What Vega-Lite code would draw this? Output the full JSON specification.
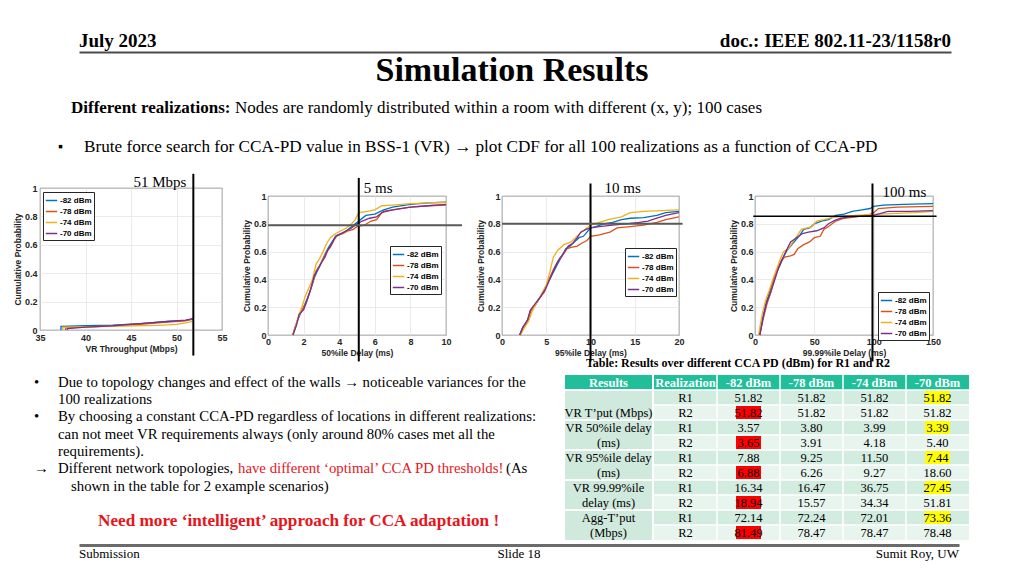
{
"$schema": "https://vega.github.io/schema/vega-lite/v6.json",
"background": "white",
"padding": {"left": 13, "top": 30, "right": 0, "bottom": 0},
"config": {
  "view": {"stroke": null},
  "font": "Liberation Serif",
  "text": {"font": "Liberation Serif", "color": "black"},
  "axis": {"labelFont": "Liberation Sans", "labelFontSize": 9, "labelFontWeight": "bold", "labelColor": "#262626", "labelPadding": 2, "labelFlush": false, "labelOverlap": false, "tickCount": 12, "titleFont": "Liberation Sans", "titleFontSize": 8.5, "titleFontWeight": "bold", "titleColor": "#262626", "titlePadding": 2, "domain": false, "ticks": false, "grid": true, "gridColor": "#e3e3e3", "gridWidth": 0.7},
  "legend": {"symbolType": "stroke", "symbolSize": 130, "symbolStrokeWidth": 1.5, "labelFont": "Liberation Sans", "labelFontSize": 8, "labelFontWeight": "bold", "labelColor": "black", "labelOffset": 2, "rowPadding": 0, "padding": 2, "strokeColor": "#262626", "fillColor": "white"}
},
"datasets": {
  "header": [{"slot": "left", "text": "July 2023"}, {"slot": "right", "text": "doc.: IEEE 802.11-23/1158r0"}],
  "footer": [{"slot": "left", "text": "Submission"}, {"slot": "center", "text": "Slide 18"}, {"slot": "right", "text": "Sumit Roy, UW"}],
  "intro": [{"part": "lead", "text": "Different realizations:"}, {"part": "body", "text": "Nodes are randomly distributed within a room with different (x, y); 100 cases"}],
  "bullets": [
    {"line": 0, "seg": "body", "marker": "•", "text": "Due to  topology changes and effect of the walls → noticeable variances for the"},
    {"line": 1, "seg": "body", "text": "100 realizations"},
    {"line": 2, "seg": "body", "marker": "•", "text": "By choosing a constant CCA-PD regardless of locations in different realizations:"},
    {"line": 3, "seg": "body", "text": "can not meet VR requirements always (only around 80% cases met all the"},
    {"line": 4, "seg": "body", "text": "requirements)."},
    {"line": 5, "seg": "body", "marker": "→", "text": "Different network topologies,"},
    {"line": 5, "seg": "red", "text": "have different ‘optimal’ CCA PD thresholds!"},
    {"line": 5, "seg": "after", "text": "(As"},
    {"line": 6, "seg": "hang", "text": "shown in the table for 2 example scenarios)"},
    {"line": 8, "seg": "call", "text": "Need more ‘intelligent’  approach for  CCA adaptation !"}
  ],
  "thr": [
    {"c": "tput", "v": 51.85, "label": "51 Mbps"},
    {"c": "d50", "v": 5.1, "h": 0.79, "label": "5 ms"},
    {"c": "d95", "v": 10, "h": 0.8, "label": "10 ms"},
    {"c": "d9999", "v": 99, "h": 0.855, "label": "100 ms"}
  ],
  "tblhead": [{"row": 0, "col": "Results"}, {"row": 0, "col": "Realization"}, {"row": 0, "col": "-82 dBm"}, {"row": 0, "col": "-78 dBm"}, {"row": 0, "col": "-74 dBm"}, {"row": 0, "col": "-70 dBm"}],
  "tbl": [
    {"row": 1, "real": "R1", "label": "", "optimal": "-70 dBm", "-82 dBm": 51.82, "-78 dBm": 51.82, "-74 dBm": 51.82, "-70 dBm": 51.82},
    {"row": 2, "real": "R2", "label": "VR T’put (Mbps)", "optimal": "-82 dBm", "-82 dBm": 51.82, "-78 dBm": 51.82, "-74 dBm": 51.82, "-70 dBm": 51.82},
    {"row": 3, "real": "R1", "label": "VR 50%ile delay", "optimal": "-70 dBm", "-82 dBm": 3.57, "-78 dBm": 3.80, "-74 dBm": 3.99, "-70 dBm": 3.39},
    {"row": 4, "real": "R2", "label": "(ms)", "optimal": "-82 dBm", "-82 dBm": 3.65, "-78 dBm": 3.91, "-74 dBm": 4.18, "-70 dBm": 5.40},
    {"row": 5, "real": "R1", "label": "VR 95%ile delay", "optimal": "-70 dBm", "-82 dBm": 7.88, "-78 dBm": 9.25, "-74 dBm": 11.50, "-70 dBm": 7.44},
    {"row": 6, "real": "R2", "label": "(ms)", "optimal": "-82 dBm", "-82 dBm": 6.88, "-78 dBm": 6.26, "-74 dBm": 9.27, "-70 dBm": 18.60},
    {"row": 7, "real": "R1", "label": "VR 99.99%ile", "optimal": "-70 dBm", "-82 dBm": 16.34, "-78 dBm": 16.47, "-74 dBm": 36.75, "-70 dBm": 27.45},
    {"row": 8, "real": "R2", "label": "delay (ms)", "optimal": "-82 dBm", "-82 dBm": 18.94, "-78 dBm": 15.57, "-74 dBm": 34.34, "-70 dBm": 51.81},
    {"row": 9, "real": "R1", "label": "Agg-T’put", "optimal": "-70 dBm", "-82 dBm": 72.14, "-78 dBm": 72.24, "-74 dBm": 72.01, "-70 dBm": 73.36},
    {"row": 10, "real": "R2", "label": "(Mbps)", "optimal": "-82 dBm", "-82 dBm": 81.49, "-78 dBm": 78.47, "-74 dBm": 78.47, "-70 dBm": 78.48}
  ],
  "cdf": [
    {"c":"tput","s":"-82 dBm","x":37.3,"p":0},{"c":"tput","s":"-82 dBm","x":37.31,"p":0.025},{"c":"tput","s":"-82 dBm","x":40,"p":0.03},{"c":"tput","s":"-82 dBm","x":43,"p":0.035},{"c":"tput","s":"-82 dBm","x":46,"p":0.045},{"c":"tput","s":"-82 dBm","x":49,"p":0.06},{"c":"tput","s":"-82 dBm","x":51,"p":0.068},{"c":"tput","s":"-82 dBm","x":51.8,"p":0.075},
    {"c":"tput","s":"-78 dBm","x":37.8,"p":0},{"c":"tput","s":"-78 dBm","x":37.81,"p":0.015},{"c":"tput","s":"-78 dBm","x":40,"p":0.02},{"c":"tput","s":"-78 dBm","x":43,"p":0.03},{"c":"tput","s":"-78 dBm","x":46,"p":0.04},{"c":"tput","s":"-78 dBm","x":49,"p":0.055},{"c":"tput","s":"-78 dBm","x":51,"p":0.065},{"c":"tput","s":"-78 dBm","x":51.8,"p":0.08},
    {"c":"tput","s":"-74 dBm","x":37.5,"p":0},{"c":"tput","s":"-74 dBm","x":37.51,"p":0.02},{"c":"tput","s":"-74 dBm","x":40,"p":0.022},{"c":"tput","s":"-74 dBm","x":44,"p":0.028},{"c":"tput","s":"-74 dBm","x":48,"p":0.032},{"c":"tput","s":"-74 dBm","x":50,"p":0.04},{"c":"tput","s":"-74 dBm","x":51,"p":0.05},{"c":"tput","s":"-74 dBm","x":51.8,"p":0.06},
    {"c":"tput","s":"-70 dBm","x":38,"p":0},{"c":"tput","s":"-70 dBm","x":38.01,"p":0.01},{"c":"tput","s":"-70 dBm","x":40,"p":0.02},{"c":"tput","s":"-70 dBm","x":43,"p":0.03},{"c":"tput","s":"-70 dBm","x":46,"p":0.045},{"c":"tput","s":"-70 dBm","x":49,"p":0.06},{"c":"tput","s":"-70 dBm","x":51,"p":0.07},{"c":"tput","s":"-70 dBm","x":51.8,"p":0.08},

    {"c":"d50","s":"-82 dBm","x":1.4,"p":0},{"c":"d50","s":"-82 dBm","x":1.5,"p":0.04},{"c":"d50","s":"-82 dBm","x":1.65,"p":0.1},{"c":"d50","s":"-82 dBm","x":1.8,"p":0.15},{"c":"d50","s":"-82 dBm","x":2,"p":0.2},{"c":"d50","s":"-82 dBm","x":2.2,"p":0.26},{"c":"d50","s":"-82 dBm","x":2.4,"p":0.33},{"c":"d50","s":"-82 dBm","x":2.6,"p":0.41},{"c":"d50","s":"-82 dBm","x":2.8,"p":0.47},{"c":"d50","s":"-82 dBm","x":3,"p":0.52},{"c":"d50","s":"-82 dBm","x":3.2,"p":0.58},{"c":"d50","s":"-82 dBm","x":3.4,"p":0.63},{"c":"d50","s":"-82 dBm","x":3.6,"p":0.67},{"c":"d50","s":"-82 dBm","x":3.8,"p":0.71},{"c":"d50","s":"-82 dBm","x":4,"p":0.72},{"c":"d50","s":"-82 dBm","x":4.3,"p":0.74},{"c":"d50","s":"-82 dBm","x":4.6,"p":0.77},{"c":"d50","s":"-82 dBm","x":4.9,"p":0.8},{"c":"d50","s":"-82 dBm","x":5.2,"p":0.83},{"c":"d50","s":"-82 dBm","x":5.5,"p":0.86},{"c":"d50","s":"-82 dBm","x":6,"p":0.87},{"c":"d50","s":"-82 dBm","x":6.5,"p":0.9},{"c":"d50","s":"-82 dBm","x":7,"p":0.92},{"c":"d50","s":"-82 dBm","x":8,"p":0.94},{"c":"d50","s":"-82 dBm","x":9,"p":0.95},{"c":"d50","s":"-82 dBm","x":10,"p":0.955},
    {"c":"d50","s":"-78 dBm","x":1.4,"p":0},{"c":"d50","s":"-78 dBm","x":1.5,"p":0.05},{"c":"d50","s":"-78 dBm","x":1.7,"p":0.12},{"c":"d50","s":"-78 dBm","x":1.9,"p":0.18},{"c":"d50","s":"-78 dBm","x":2.1,"p":0.22},{"c":"d50","s":"-78 dBm","x":2.3,"p":0.29},{"c":"d50","s":"-78 dBm","x":2.5,"p":0.37},{"c":"d50","s":"-78 dBm","x":2.7,"p":0.46},{"c":"d50","s":"-78 dBm","x":2.9,"p":0.5},{"c":"d50","s":"-78 dBm","x":3.1,"p":0.55},{"c":"d50","s":"-78 dBm","x":3.3,"p":0.6},{"c":"d50","s":"-78 dBm","x":3.5,"p":0.63},{"c":"d50","s":"-78 dBm","x":3.7,"p":0.68},{"c":"d50","s":"-78 dBm","x":3.9,"p":0.72},{"c":"d50","s":"-78 dBm","x":4.2,"p":0.73},{"c":"d50","s":"-78 dBm","x":4.5,"p":0.75},{"c":"d50","s":"-78 dBm","x":4.8,"p":0.76},{"c":"d50","s":"-78 dBm","x":5,"p":0.78},{"c":"d50","s":"-78 dBm","x":5.4,"p":0.79},{"c":"d50","s":"-78 dBm","x":5.8,"p":0.82},{"c":"d50","s":"-78 dBm","x":6.1,"p":0.83},{"c":"d50","s":"-78 dBm","x":6.4,"p":0.88},{"c":"d50","s":"-78 dBm","x":7,"p":0.9},{"c":"d50","s":"-78 dBm","x":8,"p":0.92},{"c":"d50","s":"-78 dBm","x":9,"p":0.93},{"c":"d50","s":"-78 dBm","x":10,"p":0.935},
    {"c":"d50","s":"-74 dBm","x":1.4,"p":0},{"c":"d50","s":"-74 dBm","x":1.55,"p":0.06},{"c":"d50","s":"-74 dBm","x":1.7,"p":0.13},{"c":"d50","s":"-74 dBm","x":1.9,"p":0.2},{"c":"d50","s":"-74 dBm","x":2.1,"p":0.28},{"c":"d50","s":"-74 dBm","x":2.3,"p":0.34},{"c":"d50","s":"-74 dBm","x":2.5,"p":0.4},{"c":"d50","s":"-74 dBm","x":2.7,"p":0.51},{"c":"d50","s":"-74 dBm","x":2.9,"p":0.55},{"c":"d50","s":"-74 dBm","x":3.1,"p":0.6},{"c":"d50","s":"-74 dBm","x":3.3,"p":0.66},{"c":"d50","s":"-74 dBm","x":3.5,"p":0.7},{"c":"d50","s":"-74 dBm","x":3.8,"p":0.73},{"c":"d50","s":"-74 dBm","x":4.1,"p":0.75},{"c":"d50","s":"-74 dBm","x":4.4,"p":0.77},{"c":"d50","s":"-74 dBm","x":4.7,"p":0.8},{"c":"d50","s":"-74 dBm","x":4.9,"p":0.83},{"c":"d50","s":"-74 dBm","x":5.1,"p":0.88},{"c":"d50","s":"-74 dBm","x":5.6,"p":0.89},{"c":"d50","s":"-74 dBm","x":6,"p":0.9},{"c":"d50","s":"-74 dBm","x":6.4,"p":0.93},{"c":"d50","s":"-74 dBm","x":7,"p":0.935},{"c":"d50","s":"-74 dBm","x":8,"p":0.945},{"c":"d50","s":"-74 dBm","x":9,"p":0.95},{"c":"d50","s":"-74 dBm","x":10,"p":0.955},
    {"c":"d50","s":"-70 dBm","x":1.4,"p":0},{"c":"d50","s":"-70 dBm","x":1.6,"p":0.07},{"c":"d50","s":"-70 dBm","x":1.75,"p":0.15},{"c":"d50","s":"-70 dBm","x":2,"p":0.18},{"c":"d50","s":"-70 dBm","x":2.2,"p":0.25},{"c":"d50","s":"-70 dBm","x":2.4,"p":0.33},{"c":"d50","s":"-70 dBm","x":2.6,"p":0.43},{"c":"d50","s":"-70 dBm","x":2.8,"p":0.47},{"c":"d50","s":"-70 dBm","x":3,"p":0.52},{"c":"d50","s":"-70 dBm","x":3.2,"p":0.56},{"c":"d50","s":"-70 dBm","x":3.4,"p":0.62},{"c":"d50","s":"-70 dBm","x":3.6,"p":0.66},{"c":"d50","s":"-70 dBm","x":3.8,"p":0.71},{"c":"d50","s":"-70 dBm","x":4.1,"p":0.73},{"c":"d50","s":"-70 dBm","x":4.4,"p":0.75},{"c":"d50","s":"-70 dBm","x":4.7,"p":0.77},{"c":"d50","s":"-70 dBm","x":5,"p":0.8},{"c":"d50","s":"-70 dBm","x":5.3,"p":0.82},{"c":"d50","s":"-70 dBm","x":5.7,"p":0.84},{"c":"d50","s":"-70 dBm","x":6.1,"p":0.85},{"c":"d50","s":"-70 dBm","x":6.5,"p":0.89},{"c":"d50","s":"-70 dBm","x":7,"p":0.9},{"c":"d50","s":"-70 dBm","x":8,"p":0.92},{"c":"d50","s":"-70 dBm","x":9,"p":0.93},{"c":"d50","s":"-70 dBm","x":10,"p":0.94},

    {"c":"d95","s":"-82 dBm","x":2,"p":0},{"c":"d95","s":"-82 dBm","x":2.3,"p":0.05},{"c":"d95","s":"-82 dBm","x":2.8,"p":0.09},{"c":"d95","s":"-82 dBm","x":3.2,"p":0.17},{"c":"d95","s":"-82 dBm","x":3.7,"p":0.21},{"c":"d95","s":"-82 dBm","x":4.2,"p":0.26},{"c":"d95","s":"-82 dBm","x":4.7,"p":0.31},{"c":"d95","s":"-82 dBm","x":5.2,"p":0.38},{"c":"d95","s":"-82 dBm","x":5.7,"p":0.44},{"c":"d95","s":"-82 dBm","x":6.2,"p":0.5},{"c":"d95","s":"-82 dBm","x":6.7,"p":0.56},{"c":"d95","s":"-82 dBm","x":7.2,"p":0.62},{"c":"d95","s":"-82 dBm","x":7.7,"p":0.64},{"c":"d95","s":"-82 dBm","x":8.2,"p":0.67},{"c":"d95","s":"-82 dBm","x":8.7,"p":0.7},{"c":"d95","s":"-82 dBm","x":9.2,"p":0.71},{"c":"d95","s":"-82 dBm","x":9.6,"p":0.74},{"c":"d95","s":"-82 dBm","x":10,"p":0.77},{"c":"d95","s":"-82 dBm","x":10.6,"p":0.78},{"c":"d95","s":"-82 dBm","x":11.5,"p":0.8},{"c":"d95","s":"-82 dBm","x":12.5,"p":0.81},{"c":"d95","s":"-82 dBm","x":13.5,"p":0.83},{"c":"d95","s":"-82 dBm","x":14.5,"p":0.84},{"c":"d95","s":"-82 dBm","x":16,"p":0.845},{"c":"d95","s":"-82 dBm","x":17.5,"p":0.86},{"c":"d95","s":"-82 dBm","x":18.5,"p":0.88},{"c":"d95","s":"-82 dBm","x":20,"p":0.89},
    {"c":"d95","s":"-78 dBm","x":2,"p":0},{"c":"d95","s":"-78 dBm","x":2.4,"p":0.06},{"c":"d95","s":"-78 dBm","x":2.9,"p":0.1},{"c":"d95","s":"-78 dBm","x":3.3,"p":0.18},{"c":"d95","s":"-78 dBm","x":3.8,"p":0.22},{"c":"d95","s":"-78 dBm","x":4.3,"p":0.27},{"c":"d95","s":"-78 dBm","x":4.8,"p":0.31},{"c":"d95","s":"-78 dBm","x":5.3,"p":0.4},{"c":"d95","s":"-78 dBm","x":5.8,"p":0.47},{"c":"d95","s":"-78 dBm","x":6.3,"p":0.53},{"c":"d95","s":"-78 dBm","x":6.8,"p":0.57},{"c":"d95","s":"-78 dBm","x":7.3,"p":0.62},{"c":"d95","s":"-78 dBm","x":7.8,"p":0.63},{"c":"d95","s":"-78 dBm","x":8.5,"p":0.64},{"c":"d95","s":"-78 dBm","x":9,"p":0.66},{"c":"d95","s":"-78 dBm","x":9.6,"p":0.68},{"c":"d95","s":"-78 dBm","x":10,"p":0.71},{"c":"d95","s":"-78 dBm","x":11,"p":0.72},{"c":"d95","s":"-78 dBm","x":12.2,"p":0.74},{"c":"d95","s":"-78 dBm","x":13,"p":0.77},{"c":"d95","s":"-78 dBm","x":14.5,"p":0.78},{"c":"d95","s":"-78 dBm","x":16,"p":0.79},{"c":"d95","s":"-78 dBm","x":17.5,"p":0.81},{"c":"d95","s":"-78 dBm","x":18.5,"p":0.83},{"c":"d95","s":"-78 dBm","x":20,"p":0.85},
    {"c":"d95","s":"-74 dBm","x":2.1,"p":0},{"c":"d95","s":"-74 dBm","x":2.5,"p":0.05},{"c":"d95","s":"-74 dBm","x":3,"p":0.1},{"c":"d95","s":"-74 dBm","x":3.4,"p":0.17},{"c":"d95","s":"-74 dBm","x":3.9,"p":0.23},{"c":"d95","s":"-74 dBm","x":4.5,"p":0.3},{"c":"d95","s":"-74 dBm","x":5,"p":0.36},{"c":"d95","s":"-74 dBm","x":5.4,"p":0.45},{"c":"d95","s":"-74 dBm","x":5.8,"p":0.56},{"c":"d95","s":"-74 dBm","x":6.3,"p":0.61},{"c":"d95","s":"-74 dBm","x":7,"p":0.65},{"c":"d95","s":"-74 dBm","x":7.8,"p":0.67},{"c":"d95","s":"-74 dBm","x":8.3,"p":0.7},{"c":"d95","s":"-74 dBm","x":8.8,"p":0.73},{"c":"d95","s":"-74 dBm","x":9.4,"p":0.76},{"c":"d95","s":"-74 dBm","x":10,"p":0.79},{"c":"d95","s":"-74 dBm","x":11,"p":0.81},{"c":"d95","s":"-74 dBm","x":12,"p":0.83},{"c":"d95","s":"-74 dBm","x":13.5,"p":0.85},{"c":"d95","s":"-74 dBm","x":14.5,"p":0.88},{"c":"d95","s":"-74 dBm","x":16,"p":0.89},{"c":"d95","s":"-74 dBm","x":18,"p":0.895},{"c":"d95","s":"-74 dBm","x":20,"p":0.9},
    {"c":"d95","s":"-70 dBm","x":2,"p":0},{"c":"d95","s":"-70 dBm","x":2.4,"p":0.06},{"c":"d95","s":"-70 dBm","x":2.9,"p":0.11},{"c":"d95","s":"-70 dBm","x":3.2,"p":0.18},{"c":"d95","s":"-70 dBm","x":3.8,"p":0.23},{"c":"d95","s":"-70 dBm","x":4.4,"p":0.28},{"c":"d95","s":"-70 dBm","x":4.9,"p":0.33},{"c":"d95","s":"-70 dBm","x":5.4,"p":0.4},{"c":"d95","s":"-70 dBm","x":6,"p":0.49},{"c":"d95","s":"-70 dBm","x":6.5,"p":0.55},{"c":"d95","s":"-70 dBm","x":7,"p":0.59},{"c":"d95","s":"-70 dBm","x":7.5,"p":0.64},{"c":"d95","s":"-70 dBm","x":8,"p":0.66},{"c":"d95","s":"-70 dBm","x":8.5,"p":0.7},{"c":"d95","s":"-70 dBm","x":8.9,"p":0.74},{"c":"d95","s":"-70 dBm","x":9.5,"p":0.76},{"c":"d95","s":"-70 dBm","x":10,"p":0.77},{"c":"d95","s":"-70 dBm","x":11,"p":0.78},{"c":"d95","s":"-70 dBm","x":12.5,"p":0.79},{"c":"d95","s":"-70 dBm","x":14,"p":0.8},{"c":"d95","s":"-70 dBm","x":15.5,"p":0.81},{"c":"d95","s":"-70 dBm","x":16.5,"p":0.82},{"c":"d95","s":"-70 dBm","x":17.5,"p":0.84},{"c":"d95","s":"-70 dBm","x":18.5,"p":0.86},{"c":"d95","s":"-70 dBm","x":20,"p":0.88},

    {"c":"d9999","s":"-82 dBm","x":4,"p":0},{"c":"d9999","s":"-82 dBm","x":6,"p":0.1},{"c":"d9999","s":"-82 dBm","x":9,"p":0.22},{"c":"d9999","s":"-82 dBm","x":12,"p":0.3},{"c":"d9999","s":"-82 dBm","x":15,"p":0.38},{"c":"d9999","s":"-82 dBm","x":18,"p":0.45},{"c":"d9999","s":"-82 dBm","x":21,"p":0.5},{"c":"d9999","s":"-82 dBm","x":24,"p":0.56},{"c":"d9999","s":"-82 dBm","x":27,"p":0.61},{"c":"d9999","s":"-82 dBm","x":30,"p":0.64},{"c":"d9999","s":"-82 dBm","x":34,"p":0.68},{"c":"d9999","s":"-82 dBm","x":38,"p":0.72},{"c":"d9999","s":"-82 dBm","x":41,"p":0.76},{"c":"d9999","s":"-82 dBm","x":46,"p":0.77},{"c":"d9999","s":"-82 dBm","x":50,"p":0.8},{"c":"d9999","s":"-82 dBm","x":56,"p":0.82},{"c":"d9999","s":"-82 dBm","x":62,"p":0.83},{"c":"d9999","s":"-82 dBm","x":68,"p":0.86},{"c":"d9999","s":"-82 dBm","x":75,"p":0.87},{"c":"d9999","s":"-82 dBm","x":82,"p":0.89},{"c":"d9999","s":"-82 dBm","x":90,"p":0.9},{"c":"d9999","s":"-82 dBm","x":97,"p":0.91},{"c":"d9999","s":"-82 dBm","x":100,"p":0.925},{"c":"d9999","s":"-82 dBm","x":108,"p":0.935},{"c":"d9999","s":"-82 dBm","x":125,"p":0.94},{"c":"d9999","s":"-82 dBm","x":150,"p":0.945},
    {"c":"d9999","s":"-78 dBm","x":4,"p":0},{"c":"d9999","s":"-78 dBm","x":7,"p":0.12},{"c":"d9999","s":"-78 dBm","x":10,"p":0.22},{"c":"d9999","s":"-78 dBm","x":13,"p":0.3},{"c":"d9999","s":"-78 dBm","x":16,"p":0.4},{"c":"d9999","s":"-78 dBm","x":19,"p":0.48},{"c":"d9999","s":"-78 dBm","x":22,"p":0.53},{"c":"d9999","s":"-78 dBm","x":25,"p":0.56},{"c":"d9999","s":"-78 dBm","x":30,"p":0.57},{"c":"d9999","s":"-78 dBm","x":33,"p":0.58},{"c":"d9999","s":"-78 dBm","x":36,"p":0.62},{"c":"d9999","s":"-78 dBm","x":41,"p":0.65},{"c":"d9999","s":"-78 dBm","x":46,"p":0.67},{"c":"d9999","s":"-78 dBm","x":50,"p":0.7},{"c":"d9999","s":"-78 dBm","x":55,"p":0.71},{"c":"d9999","s":"-78 dBm","x":58,"p":0.76},{"c":"d9999","s":"-78 dBm","x":62,"p":0.78},{"c":"d9999","s":"-78 dBm","x":68,"p":0.82},{"c":"d9999","s":"-78 dBm","x":75,"p":0.84},{"c":"d9999","s":"-78 dBm","x":85,"p":0.85},{"c":"d9999","s":"-78 dBm","x":95,"p":0.86},{"c":"d9999","s":"-78 dBm","x":100,"p":0.88},{"c":"d9999","s":"-78 dBm","x":104,"p":0.91},{"c":"d9999","s":"-78 dBm","x":120,"p":0.92},{"c":"d9999","s":"-78 dBm","x":150,"p":0.925},
    {"c":"d9999","s":"-74 dBm","x":3,"p":0},{"c":"d9999","s":"-74 dBm","x":6,"p":0.15},{"c":"d9999","s":"-74 dBm","x":9,"p":0.25},{"c":"d9999","s":"-74 dBm","x":12,"p":0.32},{"c":"d9999","s":"-74 dBm","x":15,"p":0.4},{"c":"d9999","s":"-74 dBm","x":18,"p":0.47},{"c":"d9999","s":"-74 dBm","x":21,"p":0.54},{"c":"d9999","s":"-74 dBm","x":24,"p":0.6},{"c":"d9999","s":"-74 dBm","x":28,"p":0.62},{"c":"d9999","s":"-74 dBm","x":32,"p":0.67},{"c":"d9999","s":"-74 dBm","x":36,"p":0.72},{"c":"d9999","s":"-74 dBm","x":39,"p":0.76},{"c":"d9999","s":"-74 dBm","x":44,"p":0.77},{"c":"d9999","s":"-74 dBm","x":48,"p":0.78},{"c":"d9999","s":"-74 dBm","x":52,"p":0.82},{"c":"d9999","s":"-74 dBm","x":58,"p":0.83},{"c":"d9999","s":"-74 dBm","x":65,"p":0.845},{"c":"d9999","s":"-74 dBm","x":75,"p":0.855},{"c":"d9999","s":"-74 dBm","x":85,"p":0.86},{"c":"d9999","s":"-74 dBm","x":95,"p":0.865},{"c":"d9999","s":"-74 dBm","x":105,"p":0.87},{"c":"d9999","s":"-74 dBm","x":120,"p":0.875},{"c":"d9999","s":"-74 dBm","x":135,"p":0.88},{"c":"d9999","s":"-74 dBm","x":150,"p":0.89},
    {"c":"d9999","s":"-70 dBm","x":4,"p":0},{"c":"d9999","s":"-70 dBm","x":7,"p":0.13},{"c":"d9999","s":"-70 dBm","x":10,"p":0.24},{"c":"d9999","s":"-70 dBm","x":13,"p":0.3},{"c":"d9999","s":"-70 dBm","x":16,"p":0.38},{"c":"d9999","s":"-70 dBm","x":19,"p":0.46},{"c":"d9999","s":"-70 dBm","x":22,"p":0.53},{"c":"d9999","s":"-70 dBm","x":26,"p":0.6},{"c":"d9999","s":"-70 dBm","x":30,"p":0.67},{"c":"d9999","s":"-70 dBm","x":35,"p":0.7},{"c":"d9999","s":"-70 dBm","x":40,"p":0.73},{"c":"d9999","s":"-70 dBm","x":45,"p":0.74},{"c":"d9999","s":"-70 dBm","x":52,"p":0.75},{"c":"d9999","s":"-70 dBm","x":58,"p":0.77},{"c":"d9999","s":"-70 dBm","x":62,"p":0.8},{"c":"d9999","s":"-70 dBm","x":66,"p":0.82},{"c":"d9999","s":"-70 dBm","x":72,"p":0.84},{"c":"d9999","s":"-70 dBm","x":80,"p":0.85},{"c":"d9999","s":"-70 dBm","x":90,"p":0.855},{"c":"d9999","s":"-70 dBm","x":100,"p":0.86},{"c":"d9999","s":"-70 dBm","x":106,"p":0.875},{"c":"d9999","s":"-70 dBm","x":112,"p":0.89},{"c":"d9999","s":"-70 dBm","x":130,"p":0.89},{"c":"d9999","s":"-70 dBm","x":150,"p":0.895}
  ]
},
"spacing": 0,
"bounds": "flush",
"resolve": {"scale": {"color": "independent"}},
"vconcat": [
  {"hconcat": [
    {"width": 45, "height": 22, "data": {"values": []}, "mark": "point"},
    {"width": 872, "height": 22, "data": {"name": "header"},
     "encoding": {"x": {"field": "slot", "type": "nominal", "scale": {"type": "point", "domain": ["left", "center", "right"], "padding": 0}, "axis": {"orient": "bottom", "domain": true, "domainColor": "#4a4a4a", "domainWidth": 2, "labels": false, "ticks": false, "grid": false, "title": null}}, "text": {"field": "text"}},
     "layer": [
       {"transform": [{"filter": "datum.slot == 'left'"}], "mark": {"type": "text", "align": "left", "fontSize": 19, "fontWeight": "bold"}},
       {"transform": [{"filter": "datum.slot == 'right'"}], "mark": {"type": "text", "align": "right", "fontSize": 19, "fontWeight": "bold"}}
     ]}
  ], "spacing": 0, "bounds": "flush"},
  {"width": 1, "height": 22, "data": {"values": []}, "mark": "point"},
  {"width": 956, "height": 38, "data": {"values": [{"text": "Simulation Results"}]}, "mark": {"type": "text", "fontSize": 34, "fontWeight": "bold"}, "encoding": {"text": {"field": "text"}}},
  {"width": 74, "height": 36, "data": {"name": "intro"}, "encoding": {"text": {"field": "text"}},
   "layer": [
     {"transform": [{"filter": "datum.part == 'lead'"}], "mark": {"type": "text", "align": "left", "fontSize": 17, "fontWeight": "bold"}},
     {"transform": [{"filter": "datum.part == 'body'"}], "mark": {"type": "text", "align": "left", "fontSize": 17, "dx": 164}}
   ]},
  {"width": 100, "height": 42, "data": {"values": [{"marker": "▪", "text": "Brute force search for  CCA-PD value in BSS-1 (VR) → plot CDF for all 100 realizations as a function of CCA-PD"}]},
   "layer": [
     {"mark": {"type": "text", "align": "left", "dx": -26, "fontSize": 14}, "encoding": {"text": {"field": "marker"}}},
     {"mark": {"type": "text", "align": "left", "fontSize": 17.2}, "encoding": {"text": {"field": "text"}}}
   ]},
  {"width": 1, "height": 20, "data": {"values": []}, "mark": "point"},
  {"hconcat": [
    {"width": 6, "height": 1, "data": {"values": []}, "mark": "point"},
    {"hconcat": [
      {"width": 182, "height": 142, "view": {"stroke": "#262626", "strokeWidth": 0.8},
       "layer": [
         {"data": {"name": "cdf"}, "transform": [{"filter": "datum.c == 'tput'"}], "mark": {"type": "line", "strokeWidth": 1.3},
          "encoding": {
            "x": {"field": "x", "type": "quantitative", "scale": {"domain": [35, 55], "nice": false, "zero": false}, "axis": {"title": "VR Throughput (Mbps)", "values": [35, 40, 45, 50, 55], "labelPadding": 3}},
            "y": {"field": "p", "type": "quantitative", "scale": {"domain": [0, 1], "nice": false}, "axis": {"title": "Cumulative Probability", "values": [0, 0.2, 0.4, 0.6, 0.8, 1], "format": "~g", "labelPadding": 3}},
            "color": {"field": "s", "type": "nominal", "scale": {"domain": ["-82 dBm", "-78 dBm", "-74 dBm", "-70 dBm"], "range": ["#0072bd", "#d95319", "#edb120", "#7e2f8e"]}, "legend": {"title": null, "orient": "none", "legendX": 3, "legendY": 4}}}},
         {"data": {"name": "thr"}, "transform": [{"filter": "datum.c == 'tput'"}], "mark": {"type": "rule", "color": "black", "strokeWidth": 2},
          "encoding": {"x": {"field": "v", "type": "quantitative"}, "y": {"datum": -0.18}, "y2": {"datum": 1.1}}},
         {"data": {"name": "thr"}, "transform": [{"filter": "datum.c == 'tput'"}], "mark": {"type": "text", "align": "right", "dx": -7, "fontSize": 15},
          "encoding": {"x": {"field": "v", "type": "quantitative"}, "y": {"datum": 1.042}, "text": {"field": "label"}}}
       ]},
      {"vconcat": [
        {"width": 1, "height": 8, "data": {"values": []}, "mark": "point"},
        {"hconcat": [
          {"width": 178, "height": 139, "view": {"stroke": "#262626", "strokeWidth": 0.8},
           "layer": [
             {"data": {"name": "cdf"}, "transform": [{"filter": "datum.c == 'd50'"}], "mark": {"type": "line", "strokeWidth": 1.3},
              "encoding": {
                "x": {"field": "x", "type": "quantitative", "scale": {"domain": [0, 10], "nice": false}, "axis": {"title": "50%ile Delay (ms)", "values": [0, 2, 4, 6, 8, 10]}},
                "y": {"field": "p", "type": "quantitative", "scale": {"domain": [0, 1], "nice": false}, "axis": {"title": "Cumulative Probability", "values": [0, 0.2, 0.4, 0.6, 0.8, 1], "format": "~g"}},
                "color": {"field": "s", "type": "nominal", "scale": {"domain": ["-82 dBm", "-78 dBm", "-74 dBm", "-70 dBm"], "range": ["#0072bd", "#d95319", "#edb120", "#7e2f8e"]}, "legend": {"title": null, "orient": "none", "legendX": 122, "legendY": 50}}}},
             {"data": {"name": "thr"}, "transform": [{"filter": "datum.c == 'd50'"}], "mark": {"type": "rule", "color": "black", "strokeWidth": 2},
              "encoding": {"x": {"field": "v", "type": "quantitative"}, "y": {"datum": -0.19}, "y2": {"datum": 1.13}}},
             {"data": {"name": "thr"}, "transform": [{"filter": "datum.c == 'd50'"}], "mark": {"type": "rule", "color": "#5a5a5a", "strokeWidth": 2},
              "encoding": {"y": {"field": "h", "type": "quantitative"}, "x": {"datum": 0}, "x2": {"datum": 10.9}}},
             {"data": {"name": "thr"}, "transform": [{"filter": "datum.c == 'd50'"}], "mark": {"type": "text", "align": "left", "dx": 5, "fontSize": 15},
              "encoding": {"x": {"field": "v", "type": "quantitative"}, "y": {"datum": 1.058}, "text": {"field": "label"}}}
           ]},
          {"hconcat": [
            {"width": 177, "height": 139, "view": {"stroke": "#262626", "strokeWidth": 0.8},
             "layer": [
               {"data": {"name": "cdf"}, "transform": [{"filter": "datum.c == 'd95'"}], "mark": {"type": "line", "strokeWidth": 1.3},
                "encoding": {
                  "x": {"field": "x", "type": "quantitative", "scale": {"domain": [0, 20], "nice": false}, "axis": {"title": "95%ile Delay (ms)", "values": [0, 5, 10, 15, 20]}},
                  "y": {"field": "p", "type": "quantitative", "scale": {"domain": [0, 1], "nice": false}, "axis": {"title": "Cumulative Probability", "values": [0, 0.2, 0.4, 0.6, 0.8, 1], "format": "~g"}},
                  "color": {"field": "s", "type": "nominal", "scale": {"domain": ["-82 dBm", "-78 dBm", "-74 dBm", "-70 dBm"], "range": ["#0072bd", "#d95319", "#edb120", "#7e2f8e"]}, "legend": {"title": null, "orient": "none", "legendX": 123, "legendY": 52}}}},
               {"data": {"name": "thr"}, "transform": [{"filter": "datum.c == 'd95'"}], "mark": {"type": "rule", "color": "black", "strokeWidth": 2},
                "encoding": {"x": {"field": "v", "type": "quantitative"}, "y": {"datum": -0.19}, "y2": {"datum": 1.09}}},
               {"data": {"name": "thr"}, "transform": [{"filter": "datum.c == 'd95'"}], "mark": {"type": "rule", "color": "#5a5a5a", "strokeWidth": 2},
                "encoding": {"y": {"field": "h", "type": "quantitative"}, "x": {"datum": 0}, "x2": {"datum": 20.4}}},
               {"data": {"name": "thr"}, "transform": [{"filter": "datum.c == 'd95'"}], "mark": {"type": "text", "align": "left", "dx": 14, "fontSize": 15},
                "encoding": {"x": {"field": "v", "type": "quantitative"}, "y": {"datum": 1.058}, "text": {"field": "label"}}}
             ]},
            {"width": 178, "height": 139, "view": {"stroke": "#262626", "strokeWidth": 0.8},
             "layer": [
               {"data": {"name": "cdf"}, "transform": [{"filter": "datum.c == 'd9999'"}], "mark": {"type": "line", "strokeWidth": 1.3},
                "encoding": {
                  "x": {"field": "x", "type": "quantitative", "scale": {"domain": [0, 150], "nice": false}, "axis": {"title": "99.99%ile Delay (ms)", "values": [0, 50, 100, 150]}},
                  "y": {"field": "p", "type": "quantitative", "scale": {"domain": [0, 1], "nice": false}, "axis": {"title": "Cumulative Probability", "values": [0, 0.2, 0.4, 0.6, 0.8, 1], "format": "~g"}},
                  "color": {"field": "s", "type": "nominal", "scale": {"domain": ["-82 dBm", "-78 dBm", "-74 dBm", "-70 dBm"], "range": ["#0072bd", "#d95319", "#edb120", "#7e2f8e"]}, "legend": {"title": null, "orient": "none", "legendX": 123, "legendY": 96}}}},
               {"data": {"name": "thr"}, "transform": [{"filter": "datum.c == 'd9999'"}], "mark": {"type": "rule", "color": "black", "strokeWidth": 2},
                "encoding": {"x": {"field": "v", "type": "quantitative"}, "y": {"datum": -0.19}, "y2": {"datum": 1.09}}},
               {"data": {"name": "thr"}, "transform": [{"filter": "datum.c == 'd9999'"}], "mark": {"type": "rule", "color": "black", "strokeWidth": 1.5},
                "encoding": {"y": {"field": "h", "type": "quantitative"}, "x": {"datum": -1.5}, "x2": {"datum": 153}}},
               {"data": {"name": "thr"}, "transform": [{"filter": "datum.c == 'd9999'"}], "mark": {"type": "text", "align": "left", "dx": 10, "fontSize": 15},
                "encoding": {"x": {"field": "v", "type": "quantitative"}, "y": {"datum": 1.03}, "text": {"field": "label"}}}
             ]}
          ], "spacing": 76, "bounds": "flush", "resolve": {"scale": {"color": "independent"}}}
        ], "spacing": 56, "bounds": "flush", "resolve": {"scale": {"color": "independent"}}}
      ], "spacing": 0, "bounds": "flush", "resolve": {"scale": {"color": "independent"}}}
    ], "spacing": 46, "bounds": "flush", "resolve": {"scale": {"color": "independent"}}}
  ], "spacing": 0, "bounds": "flush", "resolve": {"scale": {"color": "independent"}}},
  {"width": 1, "height": 147, "data": {"values": []}, "mark": "point"},
  {"hconcat": [
    {"vconcat": [
      {"width": 1, "height": 39, "data": {"values": []}, "mark": "point"},
      {"width": 48, "height": 156, "data": {"name": "bullets"},
       "encoding": {"y": {"field": "line", "type": "ordinal", "scale": {"domain": [0, 1, 2, 3, 4, 5, 6, 7, 8], "paddingInner": 0, "paddingOuter": 0}, "axis": null}},
       "layer": [
         {"transform": [{"filter": "datum.marker"}], "mark": {"type": "text", "align": "left", "dx": -24, "fontSize": 14.8}, "encoding": {"text": {"field": "marker"}}},
         {"transform": [{"filter": "datum.seg == 'body'"}], "mark": {"type": "text", "align": "left", "fontSize": 14.8}, "encoding": {"text": {"field": "text"}}},
         {"transform": [{"filter": "datum.seg == 'hang'"}], "mark": {"type": "text", "align": "left", "dx": 13, "fontSize": 14.8}, "encoding": {"text": {"field": "text"}}},
         {"transform": [{"filter": "datum.seg == 'red'"}], "mark": {"type": "text", "align": "left", "dx": 180, "fontSize": 14.8, "color": "#e8141b"}, "encoding": {"text": {"field": "text"}}},
         {"transform": [{"filter": "datum.seg == 'after'"}], "mark": {"type": "text", "align": "left", "dx": 448, "fontSize": 14.8}, "encoding": {"text": {"field": "text"}}},
         {"transform": [{"filter": "datum.seg == 'call'"}], "mark": {"type": "text", "align": "left", "dx": 40, "fontSize": 17.2, "fontWeight": "bold", "color": "#e8141b"}, "encoding": {"text": {"field": "text"}}}
       ]}
    ], "spacing": 0, "bounds": "flush"},
    {"vconcat": [
      {"width": 1, "height": 40, "data": {"values": []}, "mark": "point"},
      {"title": {"text": "Table: Results over different CCA PD (dBm) for R1 and R2", "anchor": "middle", "frame": "group", "dx": 173, "offset": 4, "fontSize": 12, "fontWeight": "bold"},
       "hconcat": [
        {"width": 87, "height": 165,
         "encoding": {"y": {"field": "row", "type": "ordinal", "scale": {"domain": [0, 1, 2, 3, 4, 5, 6, 7, 8, 9, 10], "paddingInner": 0, "paddingOuter": 0}, "axis": null}},
         "layer": [
           {"data": {"name": "tbl"}, "mark": {"type": "rect", "fill": "#cfe9dc"}},
           {"data": {"name": "tblhead"}, "transform": [{"filter": "datum.col == 'Results'"}], "mark": {"type": "rect", "fill": "#20bf9a"}},
           {"data": {"name": "tbl"}, "transform": [{"filter": "datum.real == 'R1'"}], "mark": {"type": "rule", "stroke": "white", "strokeWidth": 2}, "encoding": {"y": {"field": "row", "type": "ordinal", "bandPosition": 0}}},
           {"data": {"name": "tbl"}, "mark": {"type": "text", "fontSize": 12.5}, "encoding": {"text": {"field": "label"}}},
           {"data": {"name": "tblhead"}, "transform": [{"filter": "datum.col == 'Results'"}], "mark": {"type": "text", "fontSize": 12.5, "fontWeight": "bold", "color": "white"}, "encoding": {"text": {"field": "col"}}}
         ]},
        {"width": 315, "height": 165,
         "encoding": {"y": {"field": "row", "type": "ordinal", "scale": {"domain": [0, 1, 2, 3, 4, 5, 6, 7, 8, 9, 10], "paddingInner": 0, "paddingOuter": 0}, "axis": null}},
         "layer": [
           {"data": {"name": "tbl"}, "mark": {"type": "rect"}, "encoding": {"fill": {"condition": {"test": "datum.real == 'R1'", "value": "#d3ece0"}, "value": "#e8f4ee"}}},
           {"data": {"name": "tblhead"}, "transform": [{"filter": "datum.col == 'Realization'"}], "mark": {"type": "rect", "fill": "#20bf9a"}},
           {"data": {"name": "tbl"}, "transform": [{"fold": ["-82 dBm", "-78 dBm", "-74 dBm", "-70 dBm"], "as": ["cca", "v"]}, {"filter": "datum.cca == datum.optimal"}],
            "mark": {"type": "rect", "width": 25, "height": 13},
            "encoding": {"x": {"field": "cca", "type": "nominal", "scale": {"domain": ["Realization", "-82 dBm", "-78 dBm", "-74 dBm", "-70 dBm"], "paddingInner": 0, "paddingOuter": 0}, "axis": null},
                         "fill": {"condition": {"test": "datum.real == 'R1'", "value": "#ffff00"}, "value": "#ff0000"}}},
           {"data": {"name": "tbl"}, "mark": {"type": "rule", "stroke": "white", "strokeWidth": 1.5}, "encoding": {"y": {"field": "row", "type": "ordinal", "bandPosition": 0}}},
           {"data": {"name": "tblhead"}, "transform": [{"filter": "datum.col != 'Results' && datum.col != 'Realization'"}], "mark": {"type": "rule", "stroke": "white", "strokeWidth": 1.5},
            "encoding": {"x": {"field": "col", "type": "nominal", "bandPosition": 0, "scale": {"domain": ["Realization", "-82 dBm", "-78 dBm", "-74 dBm", "-70 dBm"], "paddingInner": 0, "paddingOuter": 0}, "axis": null}, "y": null}},
           {"data": {"name": "tbl"}, "mark": {"type": "text", "fontSize": 12.5},
            "encoding": {"x": {"datum": "Realization", "type": "nominal", "scale": {"domain": ["Realization", "-82 dBm", "-78 dBm", "-74 dBm", "-70 dBm"], "paddingInner": 0, "paddingOuter": 0}, "axis": null}, "text": {"field": "real"}}},
           {"data": {"name": "tbl"}, "transform": [{"fold": ["-82 dBm", "-78 dBm", "-74 dBm", "-70 dBm"], "as": ["cca", "v"]}], "mark": {"type": "text", "fontSize": 12.5},
            "encoding": {"x": {"field": "cca", "type": "nominal", "scale": {"domain": ["Realization", "-82 dBm", "-78 dBm", "-74 dBm", "-70 dBm"], "paddingInner": 0, "paddingOuter": 0}, "axis": null}, "text": {"field": "v", "type": "quantitative", "format": ".2f"}}},
           {"data": {"name": "tblhead"}, "transform": [{"filter": "datum.col != 'Results'"}], "mark": {"type": "text", "fontSize": 12.5, "fontWeight": "bold", "color": "white"},
            "encoding": {"x": {"field": "col", "type": "nominal", "scale": {"domain": ["Realization", "-82 dBm", "-78 dBm", "-74 dBm", "-70 dBm"], "paddingInner": 0, "paddingOuter": 0}, "axis": null}, "text": {"field": "col"}}}
         ]}
       ], "spacing": 2, "bounds": "flush"}
    ], "spacing": 0, "bounds": "flush"}
  ], "spacing": 531, "bounds": "flush"},
  {"width": 1, "height": 205, "data": {"values": []}, "mark": "point"},
  {"width": 1, "height": 5, "data": {"values": []}, "mark": "point"},
  {"hconcat": [
    {"width": 45, "height": 18, "data": {"values": []}, "mark": "point"},
    {"width": 880, "height": 18, "data": {"name": "footer"},
     "encoding": {"x": {"field": "slot", "type": "nominal", "scale": {"type": "point", "domain": ["left", "center", "right"], "padding": 0}, "axis": {"orient": "top", "domain": true, "domainColor": "#6b6b6b", "domainWidth": 3, "labels": false, "ticks": false, "grid": false, "title": null}}, "text": {"field": "text"}},
     "layer": [
       {"transform": [{"filter": "datum.slot == 'left'"}], "mark": {"type": "text", "align": "left", "fontSize": 13}},
       {"transform": [{"filter": "datum.slot == 'center'"}], "mark": {"type": "text", "align": "center", "fontSize": 13}},
       {"transform": [{"filter": "datum.slot == 'right'"}], "mark": {"type": "text", "align": "right", "fontSize": 13}}
     ]}
  ], "spacing": 0, "bounds": "flush"}
]
}
